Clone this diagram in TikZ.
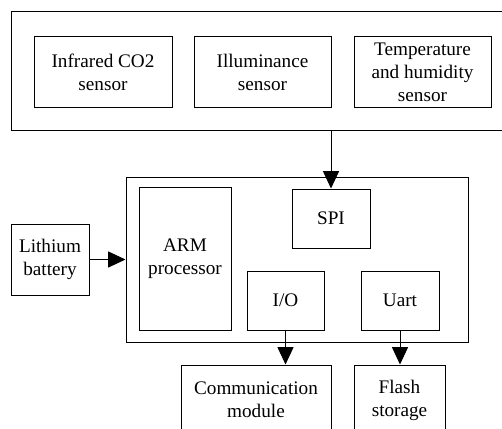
\documentclass[tikz,border=0pt]{standalone}
\usepackage{fontspec}
\setmainfont{LiberationSerif}[Extension=.ttf, UprightFont=*-Regular, BoldFont=*-Bold]
\usetikzlibrary{arrows.meta}
\tikzset{
  blk/.style 2 args={draw=black, line width=0.75pt, inner sep=0pt, align=center,
    minimum width=#1*0.75pt, minimum height=#2*0.75pt,
    font=\rmfamily\fontsize{14.4}{17.3}\selectfont},
  link/.style={draw=black, line width=0.75pt,
    -{Triangle[length=13pt, width=12pt]}}
}
\begin{document}
\begin{tikzpicture}[x=0.75pt, y=-0.75pt]
  \useasboundingbox (0,0) rectangle (502,428);
  % sensor group
  \node[blk={504}{118}] (sensors) at (263,71) {};
  \node[blk={138}{70}] (co2) at (103,72) {Infrared CO2\\sensor};
  \node[blk={137}{70}] (illum) at (262.5,72) {Illuminance\\sensor};
  \node[blk={137}{70}] (temp) at (422.5,72) {Temperature\\and humidity\\sensor};
  % controller
  \node[blk={342}{165}] (main) at (297,259.5) {};
  \node[blk={92}{143}] (arm) at (185,258.5) {ARM\\processor};
  \node[blk={78}{59}] (spi) at (331,218.5) {SPI};
  \node[blk={77}{59}] (io) at (285.5,300.5) {I/O};
  \node[blk={78}{59}] (uart) at (400,300.5) {Uart};
  % power and peripherals
  \node[blk={78}{71}] (lith) at (50,259.5) {Lithium\\battery};
  \node[blk={150}{70}] (comm) at (256,400) {Communication\\module};
  \node[blk={91}{70}] (flash) at (399.5,400) {Flash\\storage};
  % connections
  \draw[link] (spi |- sensors.south) -- (spi.north);
  \draw[link] (lith.east) -- (lith.east -| main.west);
  \draw[link] (io.south) -- (io.south |- comm.north);
  \draw[link] (uart.south) -- (uart.south |- flash.north);
\end{tikzpicture}
\end{document}
